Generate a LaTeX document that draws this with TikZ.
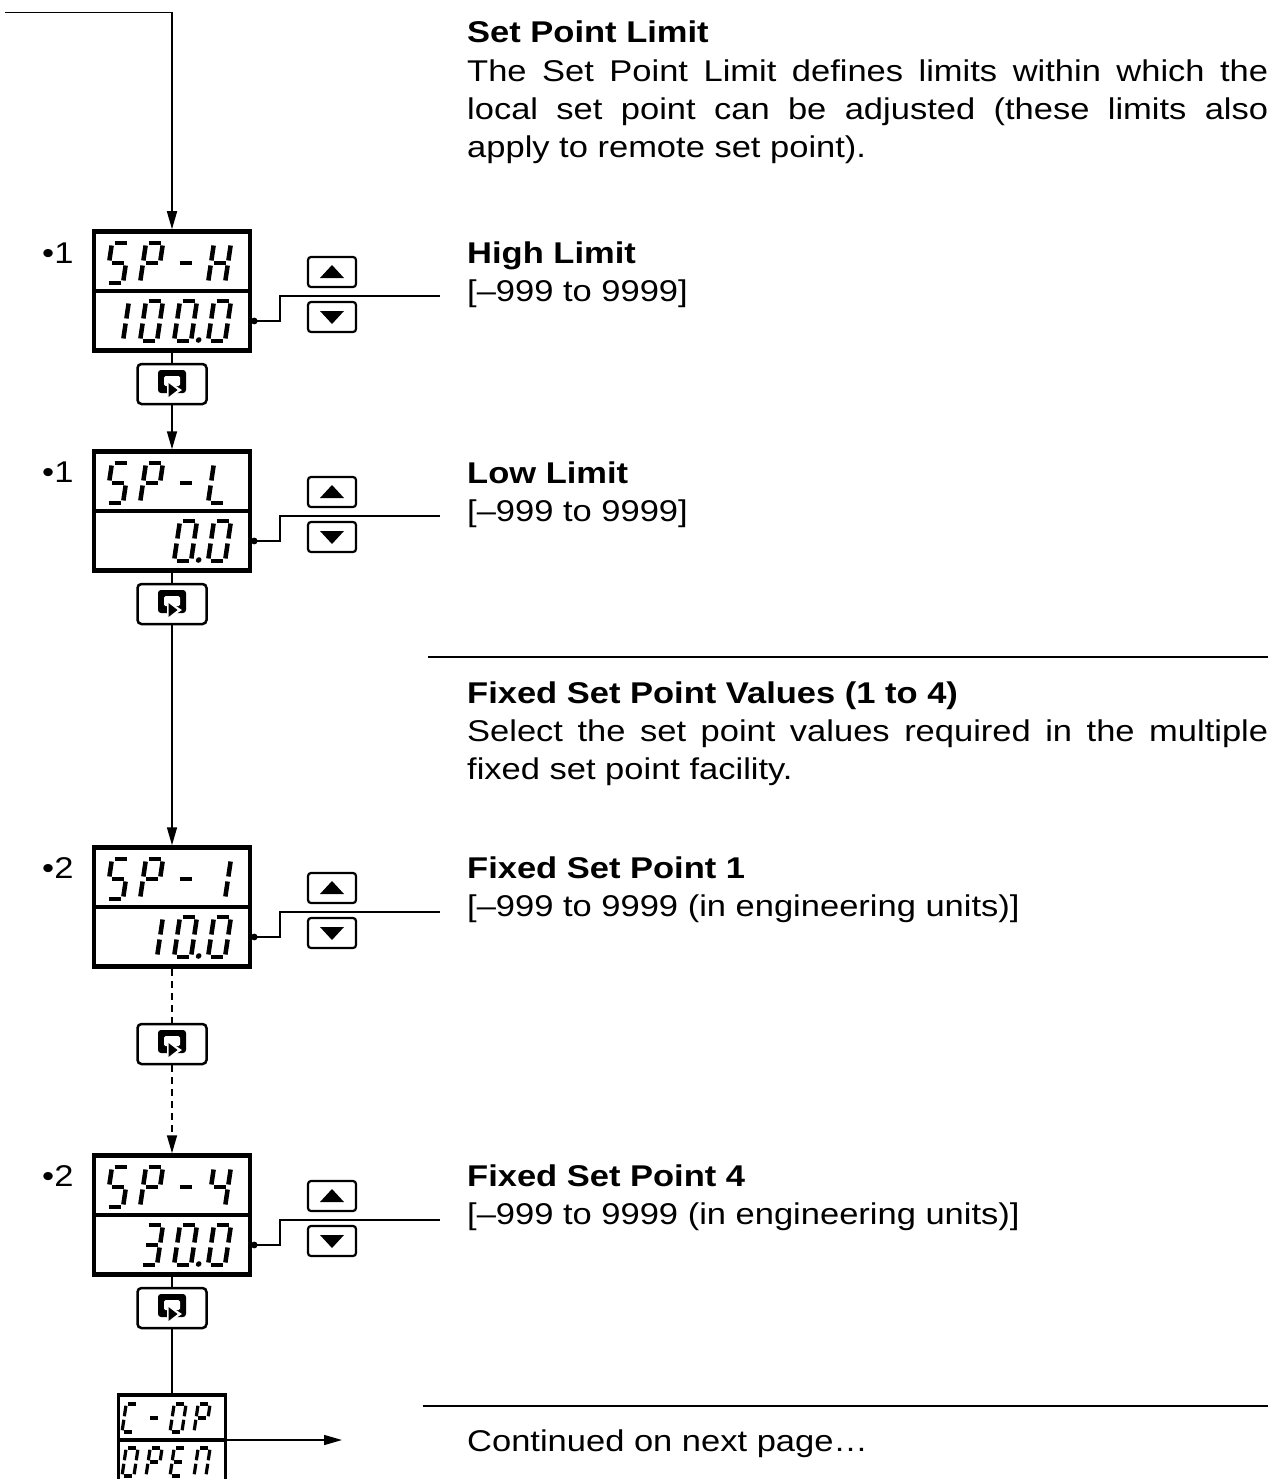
\documentclass[tikz,border=0pt]{standalone}
\usepackage{fontspec}
\setmainfont{Liberation Sans}[FakeStretch=1.15]
\usetikzlibrary{arrows.meta, positioning}

% seven-segment cells, drawn in a local frame with y pointing up
\newcommand{\segA}{\draw[seg] (2.5,40) -- (14.5,40);}
\newcommand{\segB}{\draw[seg] (17,37.5) -- (17,22.5);}
\newcommand{\segC}{\draw[seg] (17,17.5) -- (17,2.5);}
\newcommand{\segD}{\draw[seg] (2.5,0) -- (14.5,0);}
\newcommand{\segE}{\draw[seg] (0,2.5) -- (0,17.5);}
\newcommand{\segF}{\draw[seg] (0,22.5) -- (0,37.5);}
\newcommand{\segG}{\draw[seg] (2.5,20) -- (14.5,20);}
\newcommand{\segP}{\fill (24.5,1) circle (2.8);}
\newcommand{\lcd}[3][]{%
  \begin{scope}[shift={(#2)}, yscale=-1, xslant=-0.15, #1]
    \foreach \s in {#3} {\csname seg\s\endcsname}
  \end{scope}}

\tikzset{
  lcdbox/.style={draw, line width=4.5pt, minimum width=156pt, minimum height=119pt, inner sep=0pt},
  smallbox/.style={lcdbox, line width=3.5pt, minimum width=107pt, minimum height=90pt},
  keybox/.style={draw, line width=2.2pt, rounded corners=3pt, minimum width=48pt, minimum height=30pt, inner sep=0pt},
  upkey/.style={keybox, path picture={
      \fill[sharp corners] ([xshift=-12pt,yshift=-6pt]path picture bounding box.center) -- ++(24,0) -- ++(-12,-13) -- cycle;}},
  downkey/.style={keybox, path picture={
      \fill[sharp corners] ([xshift=-12pt,yshift=6pt]path picture bounding box.center) -- ++(24,0) -- ++(-12,13) -- cycle;}},
  retbtn/.style={draw, line width=2.5pt, rounded corners=4pt, minimum width=69pt, minimum height=40pt, inner sep=0pt},
  retkey/.pic={
    \fill[rounded corners=3pt] (-14,-14) rectangle (14,9);
    \fill[white, rounded corners=1.5pt] (-8,-8) rectangle (8,2);
    \fill[white] (-5,-4) -- (10,6) -- (-5,16) -- cycle;
    \fill (-3.5,-1) -- (5.5,6) -- (-3.5,13) -- cycle;
  },
  seg/.style={line width=4.5pt, line cap=butt},
  link/.style={line width=1.6pt},
  flow/.style={link, -{Triangle[length=18pt,width=10pt]}},
  dashlink/.style={link, dash pattern=on 7pt off 5pt},
  dashflow/.style={flow, dash pattern=on 7pt off 5pt},
  rule/.style={line width=2.4pt},
  txt/.style={anchor=base west, inner sep=0pt, font=\fontsize{30}{38}\selectfont},
  head/.style={txt, font=\fontsize{30}{38}\selectfont\bfseries},
  para/.style={txt, text width=801pt, align=justify}
}

\begin{document}
\begin{tikzpicture}[x=1pt, y=-1pt]
  \useasboundingbox (0,0) rectangle (1283,1479);

  % displays
  \node[lcdbox] (sph) at (172,291) {};
  \node[lcdbox] (spl) at (172,511) {};
  \node[lcdbox] (sp1) at (172,907) {};
  \node[lcdbox] (sp4) at (172,1215) {};
  \node[smallbox] (cop) at (172,1440) {};
  \foreach \d in {sph,spl,sp1,sp4} {\draw[line width=4.5pt] (\d.west) -- (\d.east);}
  \draw[line width=3.5pt] (cop.west) -- (cop.east);

  % SP-H / 100.0
  \lcd{106,283}{A,F,G,C,D}\lcd{140,283}{A,B,F,E,G}\lcd{174,283}{G}\lcd{208,283}{B,C,E,F,G}
  \lcd{106,341}{B,C}\lcd{140,341}{A,B,C,D,E,F}\lcd{174,341}{A,B,C,D,E,F,P}\lcd{208,341}{A,B,C,D,E,F}
  % SP-L / 0.0
  \lcd{106,503}{A,F,G,C,D}\lcd{140,503}{A,B,F,E,G}\lcd{174,503}{G}\lcd{208,503}{F,E,D}
  \lcd{174,561}{A,B,C,D,E,F,P}\lcd{208,561}{A,B,C,D,E,F}
  % SP-1 / 10.0
  \lcd{106,899}{A,F,G,C,D}\lcd{140,899}{A,B,F,E,G}\lcd{174,899}{G}\lcd{208,899}{B,C}
  \lcd{140,957}{B,C}\lcd{174,957}{A,B,C,D,E,F,P}\lcd{208,957}{A,B,C,D,E,F}
  % SP-4 / 30.0
  \lcd{106,1207}{A,F,G,C,D}\lcd{140,1207}{A,B,F,E,G}\lcd{174,1207}{G}\lcd{208,1207}{F,G,B,C}
  \lcd{140,1265}{A,B,G,C,D}\lcd{174,1265}{A,B,C,D,E,F,P}\lcd{208,1265}{A,B,C,D,E,F}
  % C-OP / OPEn
  \lcd[scale=0.7, seg/.append style={line width=3.2pt}]{122,1432}{A,F,E,D}
  \lcd[scale=0.7, seg/.append style={line width=3.2pt}]{146,1432}{G}
  \lcd[scale=0.7, seg/.append style={line width=3.2pt}]{170,1432}{A,B,C,D,E,F}
  \lcd[scale=0.7, seg/.append style={line width=3.2pt}]{194,1432}{A,B,F,E,G}
  \lcd[scale=0.7, seg/.append style={line width=3.2pt}]{122,1476}{A,B,C,D,E,F}
  \lcd[scale=0.7, seg/.append style={line width=3.2pt}]{146,1476}{A,B,F,E,G}
  \lcd[scale=0.7, seg/.append style={line width=3.2pt}]{170,1476}{A,F,G,E,D}
  \lcd[scale=0.7, seg/.append style={line width=3.2pt}]{194,1476}{A,B,C,E,F}

  % keys
  \node[upkey] (sph-up) at (332,272) {};
  \node[downkey] (sph-dn) at (332,317) {};
  \node[retbtn] (sph-ret) at (172,384) {};
  \node[upkey] (spl-up) at (332,492) {};
  \node[downkey] (spl-dn) at (332,537) {};
  \node[retbtn] (spl-ret) at (172,604) {};
  \node[upkey] (sp1-up) at (332,888) {};
  \node[downkey] (sp1-dn) at (332,933) {};
  \node[retbtn] (sp1-ret) at (172,1044) {};
  \node[upkey] (sp4-up) at (332,1196) {};
  \node[downkey] (sp4-dn) at (332,1241) {};
  \node[retbtn] (sp4-ret) at (172,1308) {};
  \foreach \k in {sph-ret,spl-ret,sp1-ret,sp4-ret} {\pic at (\k) {retkey};}

  % flow
  \coordinate (entry) at (5,12.6);
  \draw[flow] (entry) -| (sph.north);
  \draw[link] (sph) -- (sph-ret);
  \draw[flow] (sph-ret) -- (spl);
  \draw[link] (spl) -- (spl-ret);
  \draw[flow] (spl-ret) -- (sp1);
  \draw[dashlink] (sp1) -- (sp1-ret);
  \draw[dashflow] (sp1-ret) -- (sp4);
  \draw[link] (sp4) -- (sp4-ret);
  \draw[link] (sp4-ret) -- (cop);
  \coordinate (next) at (342,1440);
  \draw[flow] (cop.east) -- (next);

  % value leaders
  \foreach \d/\y in {sph/296,spl/516,sp1/912,sp4/1220} {
    \coordinate (\d-dot) at ([xshift=2pt,yshift=-30pt]\d.east);
    \coordinate (\d-end) at (440,\y);
    \fill (\d-dot) circle (3.4);
    \draw[link] (\d-dot) -- ++(26,0) |- (\d-end);
  }

  % tags
  \node[txt] (sph-tag) at (42,263) {•1};
  \node[txt] (spl-tag) at (42,482) {•1};
  \node[txt] (sp1-tag) at (42,878) {•2};
  \node[txt] (sp4-tag) at (42,1186) {•2};

  % text
  \node[head] (limit-head) at (467,43) {Set Point Limit};
  \node[para] (limit-text) at (467,82) {The Set Point Limit defines limits within which the\linebreak
    local set point can be adjusted (these limits also\linebreak apply to remote set point).};
  \node[head] (high-head) at (467,263) {High Limit};
  \node[txt] (high-range) at (467,301) {[–999 to 9999]};
  \node[head] (low-head) at (467,483) {Low Limit};
  \node[txt] (low-range) at (467,521) {[–999 to 9999]};
  \draw[rule] (428,657) -- (1268,657);
  \node[head] (fixed-head) at (467,703) {Fixed Set Point Values (1 to 4)};
  \node[para] (fixed-text) at (467,741) {Select the set point values required in the multiple\linebreak
    fixed set point facility.};
  \node[head] (fix1-head) at (467,878) {Fixed Set Point 1};
  \node[txt] (fix1-range) at (467,916) {[–999 to 9999 (in engineering units)]};
  \node[head] (fix4-head) at (467,1186) {Fixed Set Point 4};
  \node[txt] (fix4-range) at (467,1224) {[–999 to 9999 (in engineering units)]};
  \draw[rule] (423,1406) -- (1268,1406);
  \node[txt] (cont) at (467,1451) {Continued on next page…};
\end{tikzpicture}
\end{document}
